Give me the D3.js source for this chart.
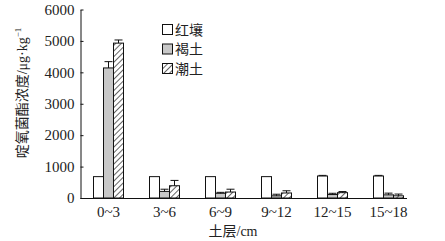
<!DOCTYPE html>
<html>
<head>
<meta charset="utf-8">
<script src="https://cdn.jsdelivr.net/npm/d3@7"></script>
<style>
  body { margin: 0; background: #fff; }
  text { font-family: "Liberation Serif", "Noto Sans CJK SC", serif; fill: #222; }
  .cjk { font-family: "Noto Sans CJK SC", sans-serif; }
</style>
</head>
<body>
<div id="chart"></div>
<script>
var groups = ["0~3", "3~6", "6~9", "9~12", "12~15", "15~18"];
var series = ["红壤", "褐土", "潮土"];
var hongrang = [680, 680, 680, 680, 700, 700];
var hongrangErr = [0, 0, 0, 0, 20, 20];
var hetu = [4140, 210, 150, 70, 110, 100];
var hetuErr = [200, 70, 30, 50, 40, 55];
var chaotu = [4930, 390, 190, 160, 170, 70];
var chaotuErr = [100, 170, 90, 70, 35, 55];
var yTicks = [0, 1000, 2000, 3000, 4000, 5000, 6000];

var width = 445, height = 241;
var values = [hongrang, hetu, chaotu];
var errs = [hongrangErr, hetuErr, chaotuErr];

var svg = d3.select("#chart")
            .append("svg")
              .attr("width", width)
              .attr("height", height);

var defs = svg.append("defs");
defs.append("pattern")
    .attr("id", "hatch")
    .attr("patternUnits", "userSpaceOnUse")
    .attr("width", 4)
    .attr("height", 4)
    .attr("patternTransform", "rotate(45)")
  .append("line")
    .attr("x1", 0).attr("y1", 0)
    .attr("x2", 0).attr("y2", 4)
    .attr("stroke", "#111")
    .attr("stroke-width", 1.3);

var fills = ["#fff", "#c8c8c8", "url(#hatch)"];

var x = d3.scaleBand()
    .domain(groups)
    .range([80.5, 416.5])
    .padding(0);

var xs = d3.scaleBand()
    .domain(series)
    .range([x.bandwidth() / 2 - 15, x.bandwidth() / 2 + 15]);

var y = d3.scaleLinear()
    .domain([0, 6000])
    .range([198, 9.5]);

// bars
var rows = [];
groups.forEach(function(g, i) {
    series.forEach(function(s, j) {
        rows.push({group: g, s: s, j: j, v: values[j][i], e: errs[j][i]});
    });
});

var gb = svg.append("g");
gb.selectAll("rect")
    .data(rows)
    .enter().append("rect")
    .attr("x", d => x(d.group) + xs(d.s))
    .attr("y", d => y(d.v))
    .attr("width", xs.bandwidth())
    .attr("height", d => y(0) - y(d.v))
    .attr("fill", d => fills[d.j])
    .attr("stroke", "#111")
    .attr("stroke-width", 1);

// error bars
var ge = svg.append("g").attr("stroke", "#111").attr("stroke-width", 1);
rows.filter(d => d.e > 0).forEach(function(d) {
    var cx = x(d.group) + xs(d.s) + xs.bandwidth() / 2;
    ge.append("line")
        .attr("x1", cx).attr("x2", cx)
        .attr("y1", y(d.v)).attr("y2", y(d.v + d.e));
    ge.append("line")
        .attr("x1", cx - 4).attr("x2", cx + 4)
        .attr("y1", y(d.v + d.e)).attr("y2", y(d.v + d.e));
});

// axes
var yAxis = svg.append("g")
    .attr("transform", "translate(80.5,0)")
    .call(d3.axisLeft(y).tickValues(yTicks).tickFormat(d3.format("d"))
        .tickSize(-3).tickSizeOuter(0).tickPadding(6));
yAxis.selectAll("text").style("font-size", "15px").style("font-family", "Liberation Serif");

var xAxis = svg.append("g")
    .attr("transform", "translate(0,198)")
    .call(d3.axisBottom(x).tickSize(0).tickSizeOuter(0).tickPadding(8));
xAxis.select(".domain").attr("d", "M80.5,0.5H407");
xAxis.selectAll("text").style("font-size", "15px").style("font-family", "Liberation Serif");
svg.selectAll(".domain, .tick line").attr("stroke", "#111");

// axis titles
svg.append("text")
    .attr("transform", "translate(27,93) rotate(-90)")
    .attr("text-anchor", "middle")
    .style("font-size", "14px")
    .html('<tspan class="cjk">啶氧菌酯浓度</tspan>/μg·kg<tspan dy="-6" style="font-size:9px">−1</tspan>');

svg.append("text")
    .attr("x", 233)
    .attr("y", 236)
    .attr("text-anchor", "middle")
    .style("font-size", "14px")
    .html('<tspan class="cjk">土层</tspan>/cm');

// legend
var lg = svg.append("g").attr("transform", "translate(162,24)");
var li = lg.selectAll("g")
    .data(series)
    .enter().append("g")
    .attr("transform", (d, i) => "translate(0," + (i * 19.5) + ")");
li.append("rect")
    .attr("x", 0.5).attr("y", 0.5)
    .attr("width", 10).attr("height", 10)
    .attr("fill", (d, i) => fills[i])
    .attr("stroke", "#111");
li.append("text")
    .attr("class", "cjk")
    .attr("x", 13)
    .attr("y", 10.5)
    .style("font-size", "14px")
    .text(d => d);
</script>
</body>
</html>
